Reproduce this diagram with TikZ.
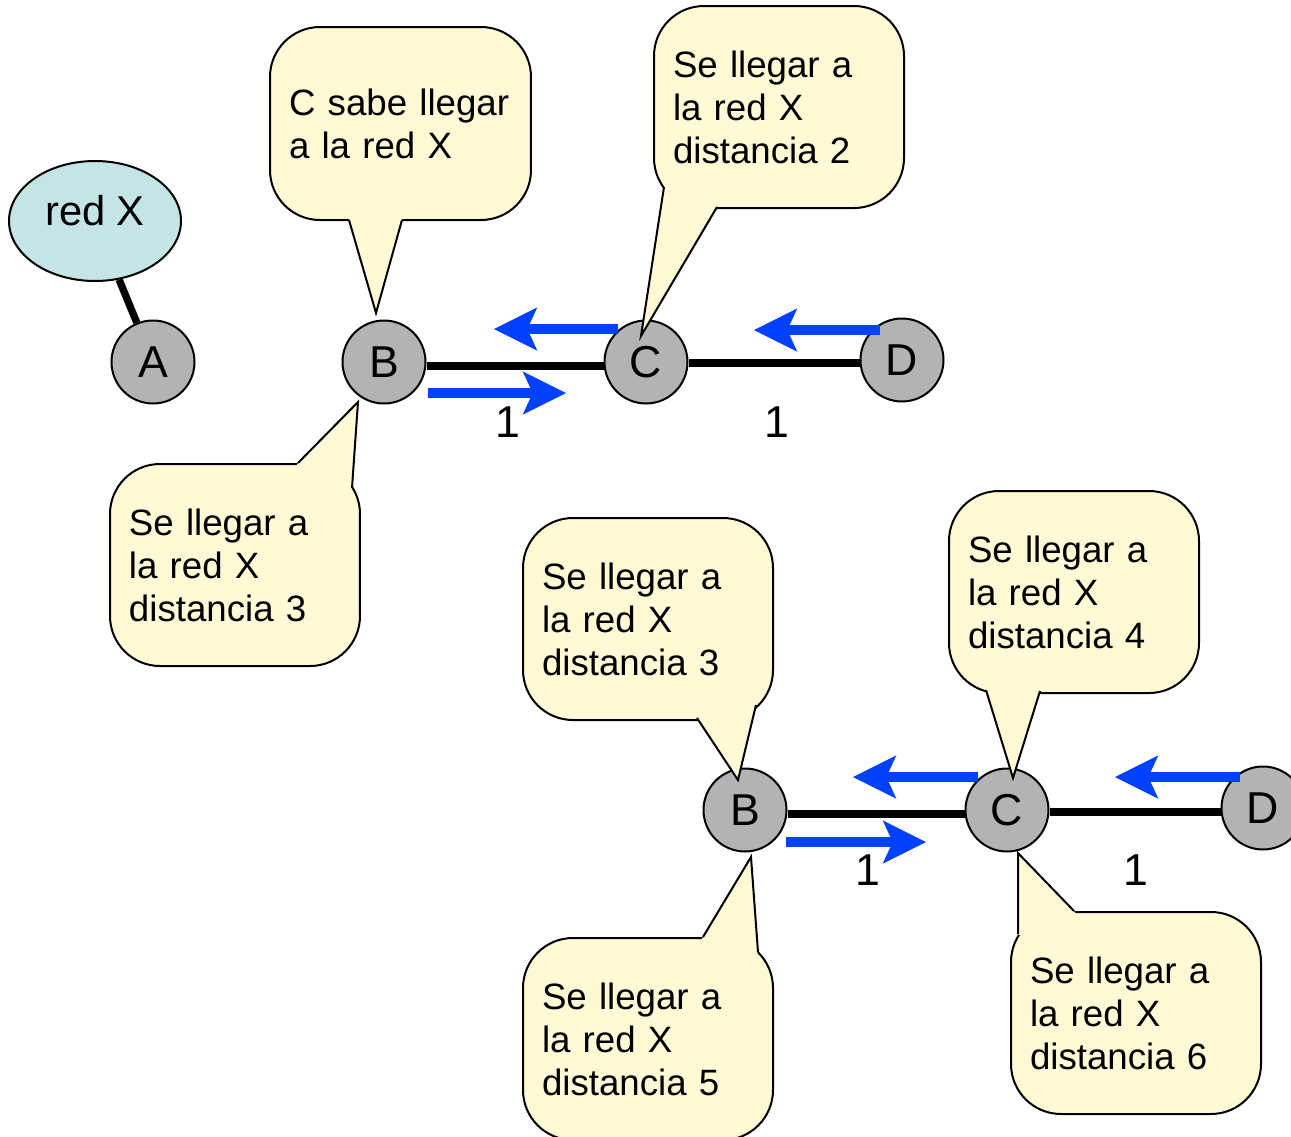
\documentclass[tikz,border=0pt]{standalone}
\usepackage{fontspec}
\setmainfont{Liberation Sans}
\usetikzlibrary{arrows.meta,calc,shapes.geometric,backgrounds}
\definecolor{azul}{RGB}{0,64,255}
\definecolor{amarillo}{RGB}{255,249,213}
\definecolor{celeste}{RGB}{196,228,230}
\definecolor{gris}{RGB}{179,179,179}
\tikzstyle{nodo}=[circle,draw,fill=gris,line width=0.6pt,minimum size=24.9pt,inner sep=0pt,font=\fontsize{13.4}{15}\selectfont]
\tikzstyle{red}=[ellipse,draw,fill=celeste,line width=0.6pt,minimum width=51.6pt,minimum height=36pt,inner sep=0pt,text depth=6.6pt,font=\fontsize{12.5}{14}\selectfont]
\tikzstyle{enlace}=[line width=2.2pt]
\tikzstyle{flecha}=[draw=azul,line width=3pt,-{Stealth[length=13pt,width=13pt,inset=3pt,line width=0pt]}]
\tikzstyle{bocadillo}=[draw,fill=amarillo,line width=0.6pt,rounded corners=15pt,anchor=north west,align=left,text width=63.6pt,inner xsep=5.7pt,minimum height=60.6pt,font=\fontsize{11}{12.9}\selectfont]
\tikzstyle{borde}=[line width=0.6pt,line join=miter]
\tikzstyle{etiqueta}=[font=\fontsize{13.4}{15}\selectfont]

\begin{document}
\begin{tikzpicture}[x=0.3pt,y=-0.3pt]
\useasboundingbox (0,0) rectangle (1291,1137);
\node[red] (X) at (95,221) {red X};
\node[nodo] (A) at (153,362) {A};
\node[nodo] (B) at (384,362) {B};
\node[nodo] (C) at (646,362) {C};
\node[nodo] (D) at (902,360) {D};
\node[nodo] (B2) at (745,810) {B};
\node[nodo] (C2) at (1007,810) {C};
\node[nodo] (D2) at (1263,808) {D};
% enlaces
\begin{pgfonlayer}{background}
\draw[enlace] (X) -- (A);
\draw[enlace] ([yshift=-1.2pt]B.east) -- ([yshift=-1.2pt]C.west);
\draw[enlace] ([yshift=-0.3pt]C.east) -- ([yshift=-0.3pt]C.east -| D.west);
\draw[enlace] ([yshift=-1.2pt]B2.east) -- ([yshift=-1.2pt]C2.west);
\draw[enlace] ([yshift=-0.6pt]C2.east) -- ([yshift=-0.6pt]C2.east -| D2.west);
\end{pgfonlayer}
% flechas
\coordinate (f1) at (618,329);
\coordinate (g1) at (494,329);
\coordinate (f2) at (428,393);
\coordinate (g2) at (566,393);
\coordinate (f3) at (880,330);
\coordinate (g3) at (754,330);
\coordinate (f4) at (978,777);
\coordinate (g4) at (853,777);
\coordinate (f5) at (786,842);
\coordinate (g5) at (926,842);
\coordinate (f6) at (1240,777);
\coordinate (g6) at (1115,777);
\foreach \i in {1,...,6}
  \draw[flecha] (f\i) -- (g\i);
\node[etiqueta] (u1) at (508,422) {1};
\node[etiqueta] (u2) at (777,422) {1};
\node[etiqueta] (u3) at (868,870) {1};
\node[etiqueta] (u4) at (1136,870) {1};
% bocadillos
\node[bocadillo,text width=66.9pt,minimum height=57.9pt] (t1) at (269,26) {C sabe llegar\\a la red X};
\node[bocadillo] (t2) at (653,5) {Se llegar a\\la red X\\distancia 2};
\node[bocadillo] (t3) at (109,463) {Se llegar a\\la red X\\distancia 3};
\node[bocadillo] (t4) at (522,517) {Se llegar a\\la red X\\distancia 3};
\node[bocadillo] (t5) at (948,490) {Se llegar a\\la red X\\distancia 4};
\node[bocadillo] (t6) at (522,937) {Se llegar a\\la red X\\distancia 5};
\node[bocadillo] (t7) at (1010,911) {Se llegar a\\la red X\\distancia 6};
\foreach \caja/\punta/\ba/\bb in {t1/{376,313}/{349,220}/{402,220},
  t2/{641,336}/{664,187}/{717,207}, t3/{358,402}/{298,463}/{352,488},
  t4/{738,780}/{697,718}/{756,705}, t5/{1013,778}/{986,690}/{1040,691},
  t6/{751,857}/{703,937}/{758,952}, t7/{1018,853}/{1018,934}/{1074,911}}{
  \fill[amarillo] (\ba) -- (\punta) -- (\bb) -- ($(\bb)!2pt!(\caja.center)$) -- ($(\ba)!2pt!(\caja.center)$) -- cycle;
  \draw[borde] (\ba) -- (\punta) -- (\bb);
}
\end{tikzpicture}
\end{document}
